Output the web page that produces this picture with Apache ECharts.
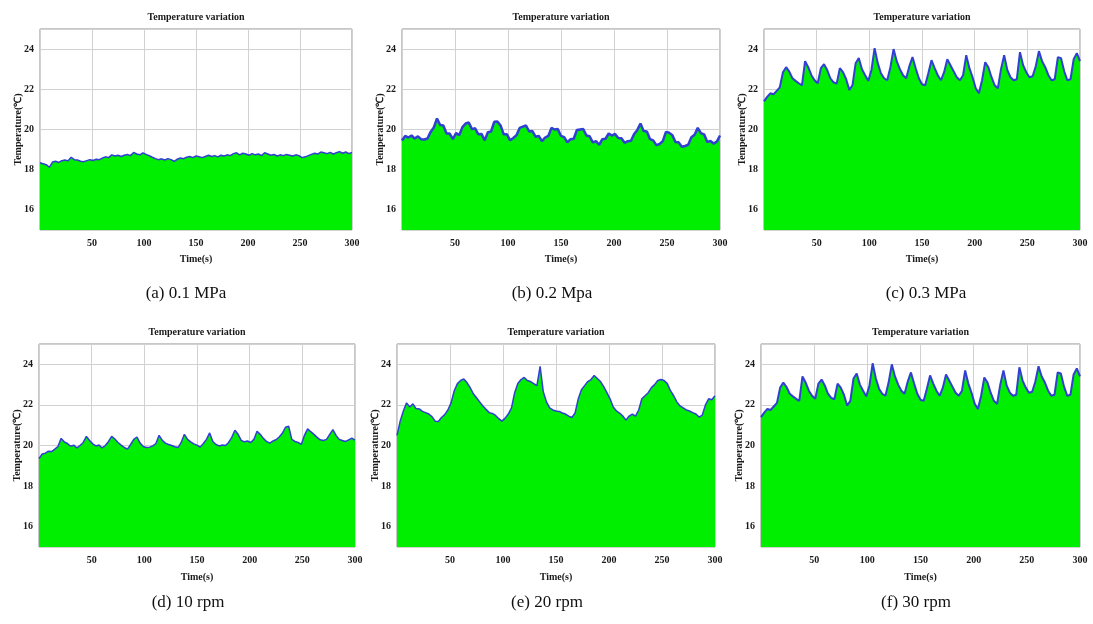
<!DOCTYPE html>
<html>
<head>
<meta charset="utf-8">
<title>Temperature variation</title>
<style>
    html, body { margin: 0; padding: 0; background: #fff; }
    #chart { width: 1093px; height: 624px; }
</style>
</head>
<body>
<div id="chart"></div>
<script src="https://cdn.jsdelivr.net/npm/echarts@6/dist/echarts.min.js"></script>
<script>
    // sampling instants (s): one reading every 3 s
    var timeSec = [];
    for (var t = 0; t <= 300; t += 3) timeSec.push(t);

    // temperature readings (℃)
    var temp01MPa = [
        18.35, 18.30, 18.25, 18.12, 18.38, 18.42, 18.36, 18.45, 18.48, 18.44,
        18.62, 18.50, 18.48, 18.42, 18.40, 18.45, 18.50, 18.46, 18.52, 18.50,
        18.58, 18.64, 18.60, 18.74, 18.68, 18.72, 18.66, 18.72, 18.76, 18.70,
        18.86, 18.78, 18.74, 18.84, 18.76, 18.70, 18.62, 18.55, 18.50, 18.54,
        18.48, 18.55, 18.50, 18.42, 18.52, 18.58, 18.55, 18.62, 18.66, 18.60,
        18.68, 18.64, 18.60, 18.66, 18.72, 18.66, 18.70, 18.64, 18.72, 18.68,
        18.74, 18.70, 18.80, 18.84, 18.74, 18.82, 18.78, 18.72, 18.80, 18.74,
        18.78, 18.70, 18.84, 18.78, 18.72, 18.76, 18.68, 18.74, 18.70, 18.76,
        18.72, 18.68, 18.74, 18.70, 18.60, 18.64, 18.70, 18.76, 18.82, 18.78,
        18.88, 18.84, 18.80, 18.86, 18.78, 18.84, 18.90, 18.82, 18.88, 18.80,
        18.86
    ];
    var temp02MPa = [
        19.45, 19.68, 19.60, 19.70, 19.55, 19.66, 19.52, 19.50, 19.55, 19.88,
        20.10, 20.55, 20.22, 20.20, 19.80, 19.80, 19.52, 19.82, 19.72, 20.12,
        20.30, 20.35, 20.02, 20.06, 19.76, 19.78, 19.46, 19.86, 19.90, 20.38,
        20.40, 20.20, 19.76, 19.76, 19.46, 19.58, 19.72, 20.08, 20.14, 20.20,
        19.90, 19.92, 19.64, 19.68, 19.42, 19.60, 19.68, 20.08, 20.00, 20.02,
        19.68, 19.62, 19.36, 19.52, 19.54, 19.98, 20.00, 20.02, 19.70, 19.66,
        19.36, 19.42, 19.24, 19.52, 19.54, 19.80, 19.70, 19.78, 19.58, 19.56,
        19.34, 19.42, 19.44, 19.78, 19.98, 20.30, 19.92, 19.90, 19.52, 19.46,
        19.22, 19.28, 19.42, 19.88, 19.84, 19.72, 19.38, 19.36, 19.14, 19.18,
        19.24, 19.62, 19.74, 20.08, 19.82, 19.76, 19.38, 19.43, 19.30, 19.40,
        19.70
    ];
    var temp03MPa = [
        21.40, 21.62, 21.80, 21.75, 21.92, 22.10, 22.85, 23.10, 22.88, 22.55,
        22.42, 22.30, 22.20, 23.40, 23.10, 22.70, 22.45, 22.30, 23.05, 23.25,
        22.96, 22.55, 22.35, 22.28, 23.05, 22.85, 22.50, 21.97, 22.20, 23.30,
        23.55, 23.00, 22.70, 22.42, 22.96, 24.05, 23.30, 22.80, 22.55, 22.45,
        23.10, 24.00, 23.40, 23.00, 22.70, 22.55, 23.15, 23.60, 23.05, 22.55,
        22.25, 22.20, 22.80, 23.45, 23.05, 22.70, 22.45, 22.85, 23.50, 23.20,
        22.90, 22.60, 22.45, 22.70, 23.70, 23.05, 22.60, 22.05, 21.80, 22.45,
        23.35, 23.10, 22.60, 22.20, 22.05, 23.00, 23.70, 22.96, 22.60, 22.45,
        22.50, 23.85, 23.20, 22.85, 22.60, 22.65, 23.15, 23.90, 23.40, 23.10,
        22.70, 22.45, 22.50, 23.60, 23.55, 22.90, 22.45, 22.50, 23.50, 23.80,
        23.40
    ];
    var temp10rpm = [
        19.35, 19.58, 19.62, 19.72, 19.70, 19.82, 19.95, 20.35, 20.18, 20.10,
        19.96, 20.02, 19.88, 20.00, 20.15, 20.45, 20.25, 20.08, 19.98, 20.02,
        19.88, 20.00, 20.20, 20.45, 20.32, 20.15, 20.02, 19.90, 19.82, 20.05,
        20.30, 20.42, 20.12, 19.95, 19.90, 19.92, 19.98, 20.10, 20.50, 20.25,
        20.12, 20.05, 20.00, 19.94, 19.90, 20.15, 20.55, 20.30, 20.18, 20.08,
        20.02, 19.92, 20.10, 20.30, 20.62, 20.20, 20.05, 19.98, 20.02, 20.00,
        20.15, 20.40, 20.75, 20.55, 20.25, 20.18, 20.22, 20.15, 20.30, 20.70,
        20.55, 20.35, 20.20, 20.12, 20.22, 20.28, 20.42, 20.60, 20.90, 20.95,
        20.30, 20.20, 20.15, 20.05, 20.50, 20.82, 20.68, 20.55, 20.40, 20.28,
        20.25, 20.30, 20.55, 20.78, 20.50, 20.30, 20.25, 20.20, 20.28, 20.36,
        20.26
    ];
    var temp20rpm = [
        20.50, 21.20, 21.70, 22.10, 21.90, 22.05, 21.82, 21.80, 21.68, 21.62,
        21.55, 21.42, 21.20, 21.18, 21.38, 21.52, 21.75, 22.10, 22.70, 23.05,
        23.20, 23.28, 23.10, 22.85, 22.55, 22.35, 22.15, 21.95, 21.78, 21.62,
        21.58, 21.48, 21.32, 21.20, 21.35, 21.55, 21.85, 22.60, 23.05, 23.25,
        23.35, 23.20, 23.15, 23.05, 22.95, 23.90, 22.65, 22.15, 21.85, 21.75,
        21.70, 21.68, 21.60, 21.55, 21.45, 21.38, 21.60, 22.30, 22.75, 22.95,
        23.15, 23.25, 23.45, 23.30, 23.15, 22.90, 22.60, 22.30, 21.90, 21.70,
        21.60, 21.45, 21.25, 21.45, 21.55, 21.45, 21.75, 22.30, 22.45, 22.60,
        22.85, 23.00, 23.20, 23.25, 23.20, 23.05, 22.70, 22.45, 22.15, 21.95,
        21.85, 21.75, 21.70, 21.62, 21.55, 21.40, 21.50, 22.00, 22.30, 22.25,
        22.45
    ];
    // panel (f) in the source shows the same trace as panel (c)
    var temp30rpm = [
        21.40, 21.62, 21.80, 21.75, 21.92, 22.10, 22.85, 23.10, 22.88, 22.55,
        22.42, 22.30, 22.20, 23.40, 23.10, 22.70, 22.45, 22.30, 23.05, 23.25,
        22.96, 22.55, 22.35, 22.28, 23.05, 22.85, 22.50, 21.97, 22.20, 23.30,
        23.55, 23.00, 22.70, 22.42, 22.96, 24.05, 23.30, 22.80, 22.55, 22.45,
        23.10, 24.00, 23.40, 23.00, 22.70, 22.55, 23.15, 23.60, 23.05, 22.55,
        22.25, 22.20, 22.80, 23.45, 23.05, 22.70, 22.45, 22.85, 23.50, 23.20,
        22.90, 22.60, 22.45, 22.70, 23.70, 23.05, 22.60, 22.05, 21.80, 22.45,
        23.35, 23.10, 22.60, 22.20, 22.05, 23.00, 23.70, 22.96, 22.60, 22.45,
        22.50, 23.85, 23.20, 22.85, 22.60, 22.65, 23.15, 23.90, 23.40, 23.10,
        22.70, 22.45, 22.50, 23.60, 23.55, 22.90, 22.45, 22.50, 23.50, 23.80,
        23.40
    ];

    var allTemps = [temp01MPa, temp02MPa, temp03MPa, temp10rpm, temp20rpm, temp30rpm];
    var captions = ['(a) 0.1 MPa', '(b) 0.2 Mpa', '(c) 0.3 MPa', '(d) 10 rpm', '(e) 20 rpm', '(f) 30 rpm'];
    var panelTitle = 'Temperature variation';

    // plot boxes in px (left, top, width, height), caption anchor, trace width
    var boxes = [
        {l: 40,  t: 29,  w: 312, h: 201, cx: 186, cy: 285, lw: 1.5},
        {l: 402, t: 29,  w: 318, h: 201, cx: 552, cy: 285, lw: 2.5},
        {l: 764, t: 29,  w: 316, h: 201, cx: 926, cy: 285, lw: 2},
        {l: 39,  t: 344, w: 316, h: 203, cx: 188, cy: 594, lw: 1.5},
        {l: 397, t: 344, w: 318, h: 203, cx: 547, cy: 594, lw: 1.5},
        {l: 761, t: 344, w: 319, h: 203, cx: 916, cy: 594, lw: 2}
    ];

    var serif = '"Liberation Serif", "Times New Roman", serif';
    var boldSmall = {fontFamily: serif, fontWeight: 'bold', fontSize: 10, color: '#1a1a1a'};

    var option = {
        animation: false,
        backgroundColor: '#fff',
        title: [],
        grid: [],
        xAxis: [],
        yAxis: [],
        series: []
    };

    boxes.forEach(function (b, i) {
        option.grid.push({
            left: b.l, top: b.t, width: b.w, height: b.h,
            show: true, borderColor: '#8f8f8f', borderWidth: 1, backgroundColor: '#fff'
        });
        option.xAxis.push({
            gridIndex: i, type: 'value', min: 0, max: 300, interval: 50,
            name: 'Time(s)', nameLocation: 'middle', nameGap: i < 3 ? 24 : 25,
            nameTextStyle: boldSmall,
            axisLine: {show: false}, axisTick: {show: false},
            axisLabel: Object.assign({showMinLabel: false, margin: 8}, boldSmall),
            splitLine: {show: true, lineStyle: {color: '#d2d2d2', width: 1}}
        });
        option.yAxis.push({
            gridIndex: i, type: 'value', min: 15, max: 25, splitNumber: 5,
            name: 'Temperature(℃)', nameLocation: 'middle', nameGap: 17,
            nameMoveOverlap: false,
            nameTextStyle: boldSmall,
            axisLine: {show: false}, axisTick: {show: false},
            axisLabel: Object.assign({showMinLabel: false, showMaxLabel: false, margin: 6}, boldSmall),
            splitLine: {show: true, lineStyle: {color: '#d2d2d2', width: 1}}
        });
        option.series.push({
            type: 'line', xAxisIndex: i, yAxisIndex: i,
            data: timeSec.map(function (s, k) { return [s, allTemps[i][k]]; }),
            showSymbol: false,
            lineStyle: {color: '#3040d0', width: b.lw},
            areaStyle: {color: '#00ee00', opacity: 1, origin: 'start'}
        });
        option.title.push({
            text: panelTitle, left: b.l + b.w / 2, top: b.t - 17, textAlign: 'center', padding: 0,
            textStyle: boldSmall
        });
        option.title.push({
            text: captions[i], left: b.cx, top: b.cy, textAlign: 'center', padding: 0,
            textStyle: {fontFamily: serif, fontWeight: 'normal', fontSize: 17, color: '#111'}
        });
    });

    var chart = echarts.init(document.getElementById('chart'));
    chart.setOption(option);
</script>
</body>
</html>
